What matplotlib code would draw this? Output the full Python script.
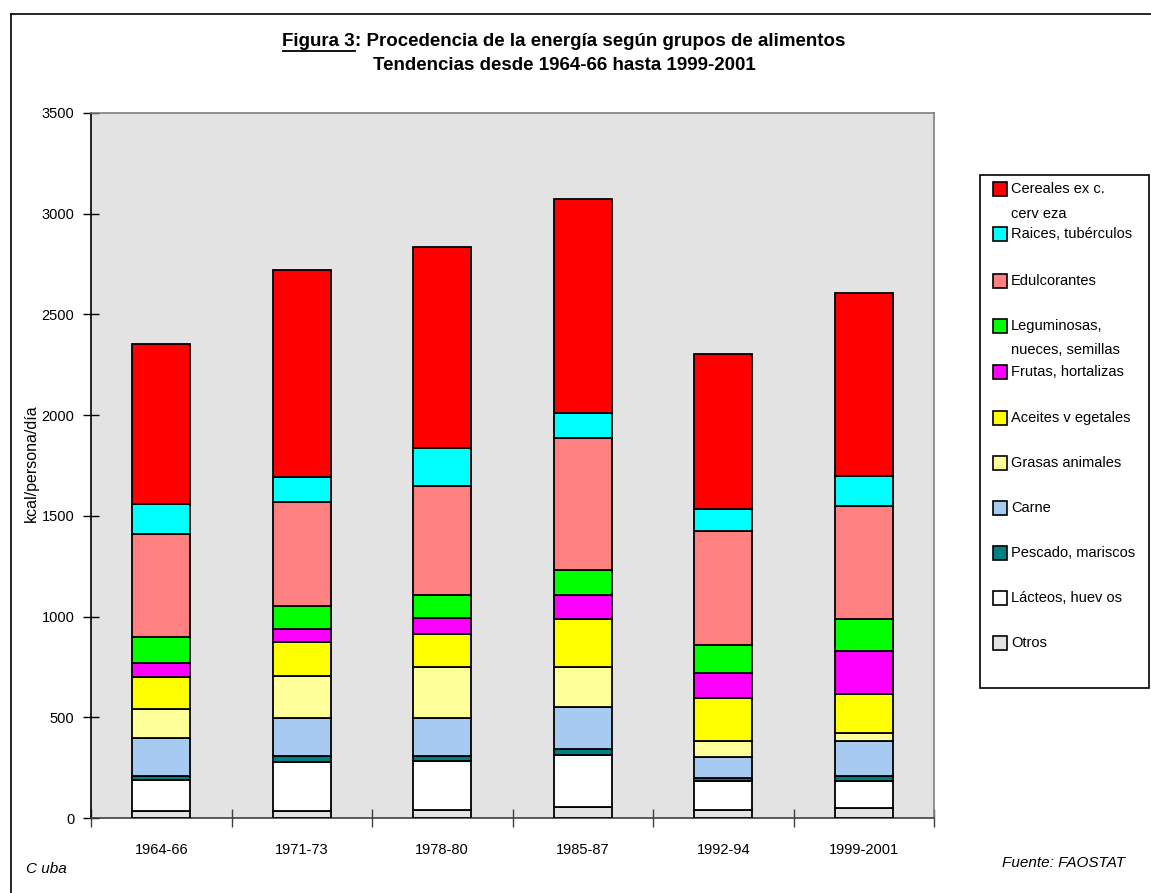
import matplotlib
matplotlib.use("Agg")
import matplotlib.pyplot as plt
from matplotlib.patches import Rectangle
from matplotlib.lines import Line2D
import numpy as np

plt.rcParams['font.family'] = ['Liberation Sans', 'DejaVu Sans']

periods = ["1964-66", "1971-73", "1978-80", "1985-87", "1992-94", "1999-2001"]

# stacked from bottom to top
otros        = [35, 35, 40, 54, 41, 51]
lacteos      = [155, 241, 241, 258, 141, 132]
pescado      = [20, 33, 25, 33, 17, 25]
carne        = [189, 189, 190, 206, 106, 174]
grasas       = [141, 207, 256, 199, 77, 40]
aceites      = [158, 167, 160, 239, 213, 192]
frutas       = [73, 66, 81, 118, 127, 216]
leguminosas  = [126, 114, 116, 126, 139, 157]
edulcorantes = [513, 515, 540, 655, 565, 563]
raices       = [149, 126, 190, 124, 106, 148]
cereales     = [794, 1027, 998, 1063, 773, 907]

series = [otros, lacteos, pescado, carne, grasas, aceites, frutas,
          leguminosas, edulcorantes, raices, cereales]
colors = ["#E3E3E3", "#FFFFFF", "#008080", "#A6CAF0", "#FFFF99", "#FFFF00",
          "#FF00FF", "#00FF00", "#FF8080", "#00FFFF", "#FF0000"]

legend_labels = ["Cereales ex c.\ncerv eza", "Raices, tubérculos", "Edulcorantes",
                 "Leguminosas,\nnueces, semillas", "Frutas, hortalizas",
                 "Aceites v egetales", "Grasas animales", "Carne",
                 "Pescado, mariscos", "Lácteos, huev os", "Otros"]
yticks = [0, 500, 1000, 1500, 2000, 2500, 3000, 3500]

W, H = 1151, 893
fig = plt.figure(figsize=(W / 100, H / 100), dpi=100)

def fx(x):
    return x / W

def fy(y):
    return 1 - y / H

# outer frame (left & top visible)
fig.add_artist(Line2D([fx(11), fx(11)], [fy(14), 0], color="black", lw=1.2,
                      transform=fig.transFigure))
fig.add_artist(Line2D([fx(11), 1], [fy(14), fy(14)], color="black", lw=1.2,
                      transform=fig.transFigure))

ax = fig.add_axes([fx(91), fy(818), (934 - 91) / W, (818 - 113) / H])
ax.set_facecolor("#E3E3E3")

x = np.arange(len(periods))
bottom = np.zeros(len(periods))
for vals, c in zip(series, colors):
    ax.bar(x, vals, width=0.41, bottom=bottom, color=c, edgecolor="black",
           linewidth=1.3, zorder=3)
    bottom += np.array(vals)

ax.set_xlim(-0.5, len(periods) - 0.5)
ax.set_ylim(0, 3500)
ax.set_yticks(yticks)
ax.set_yticklabels([str(v) for v in yticks], fontsize=10.5)
ax.tick_params(axis='y', direction='inout', length=12, width=1, pad=6,
               colors='black')

ax.set_xticks(np.arange(-0.5, len(periods), 1.0))
ax.set_xticklabels([])
ax.tick_params(axis='x', which='major', direction='inout', length=13, width=1,
               color='#404040')
ax.set_xticks(x, minor=True)
ax.set_xticklabels(periods, minor=True, fontsize=10.5)
ax.tick_params(axis='x', which='minor', length=0, pad=18)

for s in ['top', 'right']:
    ax.spines[s].set_color('#808080')
    ax.spines[s].set_linewidth(1.2)
ax.spines['left'].set_color('black')
ax.spines['left'].set_linewidth(1.2)
ax.spines['bottom'].set_color('#404040')
ax.spines['bottom'].set_linewidth(1.2)

fig.text(fx(31), fy(463), "kcal/persona/día", rotation=90, ha='center',
         va='center', fontsize=11.5)

# title
TFS = 13.5
renderer = fig.canvas.get_renderer()
title1_a = "Figura 3"
title1_b = ": Procedencia de la energía según grupos de alimentos"
ta = fig.text(0, fy(41), title1_a, ha='left', va='center', fontsize=TFS,
              fontweight='bold')
tb = fig.text(0, fy(41), title1_b, ha='left', va='center', fontsize=TFS,
              fontweight='bold')
wa = ta.get_window_extent(renderer).width
wb = tb.get_window_extent(renderer).width
start = 564 - (wa + wb) / 2
ta.set_x(fx(start))
tb.set_x(fx(start + wa))
fig.add_artist(Line2D([fx(start), fx(start + wa)], [fy(51), fy(51)],
                      color="black", lw=1.3, transform=fig.transFigure))
fig.text(fx(564), fy(66), "Tendencias desde 1964-66 hasta 1999-2001",
         ha='center', va='center', fontsize=TFS, fontweight='bold')

# footer texts
fig.text(fx(26), fy(869), "C uba", ha='left', va='center', fontsize=11,
         style='italic')
fig.text(fx(1125), fy(863), "Fuente: FAOSTAT", ha='right', va='center',
         fontsize=11, style='italic')

# legend (manual, Excel style)
fig.add_artist(Rectangle((fx(980), fy(688)), (1149 - 980) / W, (688 - 175) / H,
                         facecolor='white', edgecolor='black', lw=1.2,
                         transform=fig.transFigure))
leg_y = [189, 234, 281, 326, 372, 418, 463, 508, 553, 598, 643]
leg_colors = colors[::-1]
for lab, c, yy in zip(legend_labels, leg_colors, leg_y):
    fig.add_artist(Rectangle((fx(993), fy(yy + 7)), 14 / W, 14 / H,
                             facecolor=c, edgecolor='black', lw=1.2,
                             transform=fig.transFigure))
    lines = lab.split("\n")
    for i, ln in enumerate(lines):
        fig.text(fx(1011), fy(yy + i * 24.5), ln, ha='left', va='center',
                 fontsize=10.5)

fig.savefig("out.png", dpi=100)
